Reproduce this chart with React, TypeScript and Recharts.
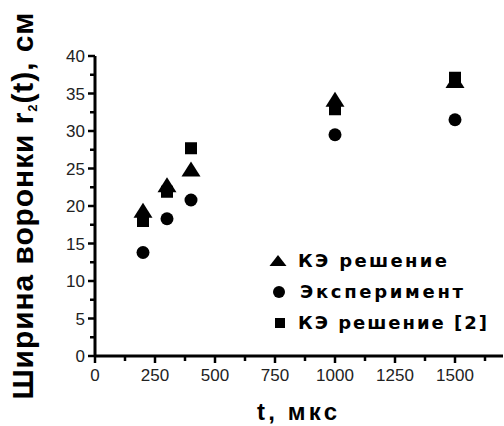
import { ScatterChart, Scatter, XAxis, YAxis, Legend } from 'recharts';

// t, мкс
const times = [200, 300, 400, 1000, 1500];
// r2(t), см
const feSolution = [19.1, 22.5, 24.6, 33.9, 36.4];
const experiment = [13.8, 18.3, 20.8, 29.5, 31.5];
const feSolutionRef2 = [18.0, 21.9, 27.7, 32.9, 37.1];

const xTicks = [0, 125, 250, 375, 500, 625, 750, 875, 1000, 1125, 1250, 1375, 1500, 1625];
const yTicks = [0, 2.5, 5, 7.5, 10, 12.5, 15, 17.5, 20, 22.5, 25, 27.5, 30, 32.5, 35, 37.5, 40];

const seriesNames = ['КЭ решение', 'Эксперимент', 'КЭ решение [2]'];

const toPoints = (vals: number[]) => times.map((t, i) => ({ t, r: vals[i] }));

const FONT = '"Liberation Sans", Arial, sans-serif';
const LEGEND_FONT = '"DejaVu Sans", "Liberation Sans", sans-serif';

const Triangle = ({ cx, cy }: any) => (
  <polygon points={`${cx},${cy - 10} ${cx - 9.5},${cy + 5} ${cx + 9.5},${cy + 5}`} fill="#000" />
);
const Dot = ({ cx, cy }: any) => <circle cx={cx} cy={cy} r={6.5} fill="#000" />;
const Square = ({ cx, cy }: any) => <rect x={cx - 6} y={cy - 6} width={12} height={12} fill="#000" />;

const XTick = ({ x, y, payload }: any) => {
  const major = payload.value % 250 === 0;
  return (
    <g>
      <line x1={x} y1={y} x2={x} y2={y + (major ? 7 : 5)} stroke="#000" strokeWidth={2.5} />
      {major && (
        <text x={x} y={y + 25} textAnchor="middle" fontSize={17} fontFamily={FONT} fill="#222">
          {payload.value}
        </text>
      )}
    </g>
  );
};

const YTick = ({ x, y, payload }: any) => {
  const major = payload.value % 5 === 0;
  return (
    <g>
      <line x1={x} y1={y} x2={x - (major ? 7 : 5)} y2={y} stroke="#000" strokeWidth={2.5} />
      {major && (
        <text x={x - 10} y={y + 6} textAnchor="end" fontSize={17} fontFamily={FONT} fill="#222">
          {payload.value}
        </text>
      )}
    </g>
  );
};

const YTitle = (props: any) => {
  const vb = props.viewBox || { x: 0, y: 56, width: 95, height: 300 };
  const cx = vb.x + 33;
  const cy = vb.y + vb.height / 2;
  return (
    <text
      x={cx}
      y={cy}
      transform={`rotate(-90, ${cx}, ${cy})`}
      textAnchor="middle"
      fontSize={30}
      fontWeight="bold"
      fontFamily={FONT}
      fill="#000"
      textLength={387}
      lengthAdjust="spacing"
    >
      Ширина воронки r<tspan fontSize={13} dy={4}>2</tspan>
      <tspan dy={-4}>(t), см</tspan>
    </text>
  );
};

const XTitle = (props: any) => {
  const vb = props.viewBox || { x: 95, y: 356, width: 408, height: 70 };
  return (
    <text
      x={vb.x + vb.width / 2 - 2}
      y={vb.y + 64}
      textAnchor="middle"
      fontSize={24}
      fontWeight="bold"
      fontFamily={FONT}
      fill="#000"
      textLength={80}
      lengthAdjust="spacing"
    >
      t, мкс
    </text>
  );
};

const legendRows = [
  { name: seriesNames[0], marker: 'triangle', len: 149, dx: 33 },
  { name: seriesNames[1], marker: 'circle', len: 163, dx: 35 },
  { name: seriesNames[2], marker: 'square', len: 189, dx: 33 },
];

const LegendBox = () => (
  <svg width={239} height={100}>
    {legendRows.map((row, i) => {
      const cy = 21 + i * 31;
      return (
        <g key={row.name}>
          {row.marker === 'triangle' && (
            <polygon points={`13,${cy - 6} 4.5,${cy + 5} 21.5,${cy + 5}`} fill="#000" />
          )}
          {row.marker === 'circle' && <circle cx={14} cy={cy} r={6} fill="#000" />}
          {row.marker === 'square' && <rect x={10} y={cy - 5} width={10} height={10} fill="#000" />}
          <text
            x={row.dx}
            y={cy + 6}
            fontSize={18}
            fontWeight="bold"
            fontFamily={LEGEND_FONT}
            fill="#000"
            textLength={row.len}
            lengthAdjust="spacing"
          >
            {row.name}
          </text>
        </g>
      );
    })}
  </svg>
);

export default function App() {
  return (
    <div style={{ position: 'fixed', left: 0, top: 0, width: 504, height: 426, background: '#fff' }}>
      <ScatterChart width={504} height={426} margin={{ top: 56, right: 1, left: 0, bottom: 0 }}>
        <XAxis
          type="number"
          dataKey="t"
          domain={[0, 1700]}
          ticks={xTicks}
          interval={0}
          allowDataOverflow
          height={70}
          tickSize={0}
          tickMargin={0}
          tickLine={false}
          axisLine={{ stroke: '#000', strokeWidth: 3 }}
          tick={<XTick />}
          label={<XTitle />}
        />
        <YAxis
          type="number"
          dataKey="r"
          domain={[0, 40]}
          ticks={yTicks}
          interval={0}
          width={95}
          tickSize={0}
          tickMargin={0}
          tickLine={false}
          axisLine={{ stroke: '#000', strokeWidth: 3 }}
          tick={<YTick />}
          label={<YTitle />}
        />
        <Legend
          layout="vertical"
          align="center"
          verticalAlign="middle"
          content={<LegendBox />}
          wrapperStyle={{ position: 'absolute', left: 265, top: 240, width: 239, height: 100 }}
        />
        <Scatter name={seriesNames[0]} data={toPoints(feSolution)} shape={<Triangle />} isAnimationActive={false} />
        <Scatter name={seriesNames[1]} data={toPoints(experiment)} shape={<Dot />} isAnimationActive={false} />
        <Scatter name={seriesNames[2]} data={toPoints(feSolutionRef2)} shape={<Square />} isAnimationActive={false} />
      </ScatterChart>
    </div>
  );
}
